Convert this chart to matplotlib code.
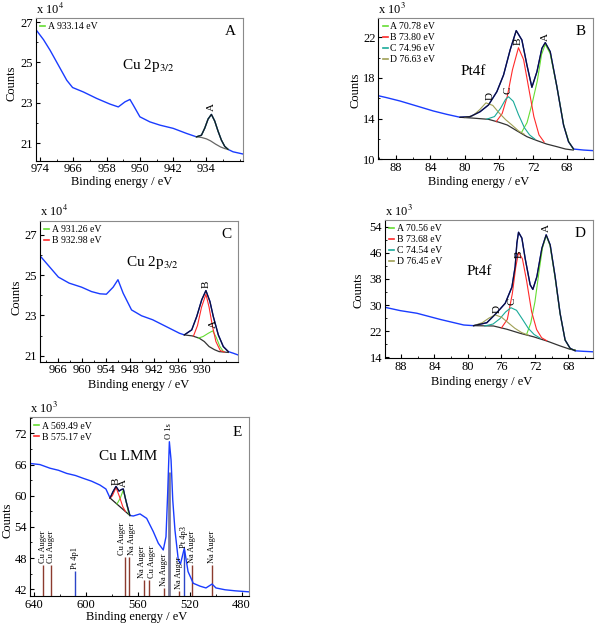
import matplotlib
matplotlib.use('Agg')
import matplotlib.pyplot as plt
from matplotlib.ticker import AutoMinorLocator

plt.rcParams['font.family'] = ['Liberation Serif', 'DejaVu Serif']
plt.rcParams['mathtext.fontset'] = 'stix'

BLUE = '#1a3cff'
GREEN = '#66dd33'
RED = '#ff2a2a'
TEAL = '#1aaa99'
OLIVE = '#a0a055'
BROWN = '#8c3b2e'

# ---------------- panel A : Cu 2p3/2 (counts x 10^4) ----------------
be_a = [975.0, 973.2, 971.6, 969.6, 967.6, 966.2, 963.6, 960.4, 957.2, 955.2,
        953.6, 952.4, 951.6, 950.0, 947.6, 945.2, 942.0, 938.8, 936.4, 935.2,
        934.4, 933.6, 932.8, 932.0, 931.2, 930.4, 929.6, 928.8, 927.6, 925.2]
cnt_a = [26.62, 26.13, 25.60, 24.86, 24.12, 23.76, 23.54, 23.22, 22.94, 22.80,
         23.05, 23.17, 22.89, 22.31, 22.06, 21.90, 21.74, 21.49, 21.32, 21.40,
         21.75, 22.20, 22.43, 22.10, 21.60, 21.16, 20.85, 20.70, 20.58, 20.47]
fit_be_a = [936.4, 935.2, 934.4, 933.6, 932.8, 932.0, 931.2, 930.4, 929.6, 928.8]
fit_a = [21.32, 21.40, 21.75, 22.20, 22.43, 22.10, 21.60, 21.16, 20.85, 20.70]
bg_be_a = [936.4, 935.2, 934.0, 933.0, 931.8, 930.6, 929.6, 928.8]
bg_a = [21.32, 21.29, 21.22, 21.12, 20.96, 20.82, 20.74, 20.70]
xticks_a = [974, 966, 958, 950, 942, 934]
yticks_a = [21, 23, 25, 27]

# ---------------- panel B : Pt4f (counts x 10^3) ----------------
be_b = [90.07, 89.09, 87.53, 85.58, 83.64, 82.07, 80.51, 79.35, 78.18, 77.20,
        76.22, 75.44, 74.67, 73.96, 73.30, 72.71, 72.13, 71.54, 70.96, 70.57,
        69.99, 69.21, 68.43, 67.85, 67.26, 66.09, 64.92]
cnt_b = [16.25, 16.06, 15.73, 15.24, 14.75, 14.42, 14.13, 14.19, 14.68, 15.34,
         16.65, 18.29, 20.75, 22.65, 21.73, 19.27, 17.08, 18.61, 20.91, 21.47,
         20.58, 17.14, 13.37, 11.73, 11.01, 10.91, 10.85]
env_be_b = be_b[6:25]
env_b = cnt_b[6:25]
bg_be_b = [80.5, 79.0, 77.2, 76.0, 75.0, 73.9, 72.7, 71.5, 70.4, 69.2, 68.2, 67.3]
bg_b = [14.13, 14.05, 13.93, 13.65, 13.37, 12.81, 12.22, 11.83, 11.50, 11.24, 11.01, 10.91]
compA_be_b = [73.3, 72.7, 72.1, 71.5, 71.0, 70.57, 70.0, 69.2, 68.4, 67.8, 67.3]
compA_b = [12.7, 13.6, 15.5, 17.7, 20.3, 21.3, 20.4, 17.1, 13.3, 11.7, 11.0]
compB_be_b = [76.3, 75.6, 75.0, 74.4, 73.7, 73.1, 72.5, 71.9, 71.3, 70.7]
compB_b = [13.7, 14.5, 16.2, 18.8, 20.97, 19.8, 17.0, 14.2, 12.4, 11.7]
compC_be_b = [77.4, 76.5, 75.8, 75.2, 74.86, 74.3, 73.7, 73.0, 72.4, 71.8]
compC_b = [13.95, 14.2, 15.0, 15.9, 16.15, 15.7, 14.4, 13.1, 12.4, 12.0]
compD_be_b = [80.0, 79.0, 78.2, 77.5, 76.7, 76.0, 75.2, 74.5, 73.7, 73.0]
compD_b = [14.1, 14.3, 14.9, 15.55, 15.3, 14.6, 13.9, 13.4, 12.8, 12.45]
xticks_b = [88, 84, 80, 76, 72, 68]
yticks_b = [10, 14, 18, 22]

# ---------------- panel C : Cu 2p3/2 (counts x 10^4) ----------------
be_c = [970.6, 966.0, 963.3, 960.2, 957.7, 955.6, 954.0, 952.3, 951.1, 949.8,
        947.7, 945.2, 942.4, 939.0, 935.7, 934.5, 932.65, 931.4, 930.15, 929.1,
        928.1, 927.25, 926.0, 924.75, 923.5, 922.25, 921.0]
cnt_c = [25.96, 24.90, 24.60, 24.40, 24.18, 24.07, 24.05, 24.40, 24.77, 24.10,
         23.27, 22.98, 22.78, 22.44, 22.11, 22.03, 22.28, 22.94, 23.77, 24.23,
         23.69, 22.94, 22.03, 21.45, 21.20, 21.12, 21.03]
env_be_c = be_c[15:25]
env_c = cnt_c[15:25]
bg_be_c = [934.5, 932.5, 930.8, 929.5, 928.3, 927.0, 925.8, 923.5]
bg_c = [22.03, 21.98, 21.87, 21.70, 21.45, 21.30, 21.20, 21.16]
compA_be_c = [931.0, 929.8, 928.6, 927.4, 926.5, 925.6, 924.7]
compA_c = [21.87, 21.95, 22.10, 22.23, 21.90, 21.45, 21.20]
compB_be_c = [932.2, 931.2, 930.2, 929.1, 928.3, 927.5, 926.6, 925.5, 924.5]
compB_c = [21.98, 22.50, 23.40, 24.05, 23.40, 22.50, 21.70, 21.25, 21.18]
xticks_c = [966, 960, 954, 948, 942, 936, 930]
yticks_c = [21, 23, 25, 27]

# ---------------- panel D : Pt4f (counts x 10^3) ----------------
be_d = [89.87, 88.08, 86.1, 83.3, 80.5, 79.33, 77.74, 76.54, 75.55, 74.75,
        74.36, 74.16, 73.96, 73.56, 73.17, 72.57, 72.25, 71.77, 71.17, 70.66,
        70.18, 69.59, 69.0, 68.4, 67.8, 67.2, 66.2, 65.1]
cnt_d = [29.3, 28.3, 27.5, 25.6, 23.9, 23.7, 24.6, 27.7, 30.55, 35.5,
         41.8, 48.9, 52.3, 50.5, 44.3, 36.2, 34.8, 38.7, 47.4, 51.5,
         48.4, 38.7, 27.5, 19.3, 16.76, 16.0, 15.84, 15.7]
env_be_d = be_d[5:26]
env_d = cnt_d[5:26]
bg_be_d = [79.33, 76.95, 75.35, 73.76, 72.18, 70.58, 69.0, 67.8, 67.2]
bg_d = [23.7, 23.6, 22.6, 21.35, 20.3, 19.0, 17.5, 16.45, 16.25]
compA_be_d = [73.0, 72.5, 72.0, 71.5, 71.1, 70.66, 70.2, 69.6, 69.0, 68.4, 67.8, 67.2]
compA_d = [21.0, 24.5, 31.0, 40.5, 47.5, 51.3, 48.2, 38.5, 27.4, 19.3, 16.7, 16.1]
compB_be_d = [76.0, 75.3, 74.7, 74.3, 73.96, 73.5, 73.0, 72.4, 71.8, 71.2, 70.6]
compB_d = [23.0, 25.6, 33.5, 41.5, 46.1, 44.2, 37.5, 28.0, 22.5, 20.0, 19.1]
compC_be_d = [78.0, 77.0, 76.2, 75.5, 74.87, 74.2, 73.5, 72.8, 72.1, 71.4]
compC_d = [23.6, 24.2, 25.8, 27.9, 29.2, 28.4, 25.7, 22.9, 21.0, 19.9]
compD_be_d = [79.3, 78.3, 77.5, 76.75, 76.0, 75.2, 74.4, 73.6, 72.8]
compD_d = [23.7, 24.6, 26.0, 27.0, 26.3, 24.6, 22.9, 21.6, 20.8]
xticks_d = [88, 84, 80, 76, 72, 68]
yticks_d = [14, 22, 30, 38, 46, 54]

# ---------------- panel E : Cu LMM survey (counts x 10^3) ----------------
be_e = [642.5, 635.3, 627.6, 621.0, 614.7, 608.0, 601.9, 595.5, 589.1, 584.5,
        581.3, 579.0, 576.7, 574.4, 572.5, 571.1, 569.5, 568.2, 566.0, 563.4,
        558.2, 553.1, 548.0, 544.1, 540.3, 538.2, 536.9, 535.6, 534.3, 533.0,
        531.3, 528.7, 527.0, 524.1, 521.2, 517.2, 512.0, 507.4, 502.7, 499.7,
        492.7, 485.0, 474.2]
cnt_e = [66.2, 66.0, 65.3, 64.9, 64.3, 63.9, 63.35, 62.8, 62.06, 61.3,
         59.56, 60.8, 61.8, 60.9, 61.2, 61.3, 59.5, 58.2, 56.2, 56.1,
         56.5, 55.65, 53.1, 50.85, 49.56, 52.1, 60.5, 70.4, 66.9, 59.2,
         53.4, 47.6, 46.9, 49.9, 45.4, 43.15, 42.6, 42.25, 43.0, 42.25,
         41.9, 41.7, 41.5]
env_be_e = be_e[10:19]
env_e = cnt_e[10:19]
bg_be_e = [581.3, 566.0]
bg_e = [59.56, 56.2]
compA_be_e = [576.0, 573.5, 571.1, 569.0, 567.0, 566.0]
compA_e = [58.4, 59.5, 61.1, 59.0, 56.6, 56.2]
compB_be_e = [581.3, 579.5, 576.7, 574.0, 571.5, 569.5]
compB_e = [59.56, 60.0, 61.6, 59.8, 57.9, 57.0]
line_be = [633.2, 626.8, 608.6, 569.8, 566.7, 554.9, 551.1, 539.7, 535.9,
           527.9, 524.1, 517.9, 502.7]
line_top = [46.7, 46.7, 45.6, 48.3, 48.3, 43.8, 43.8, 42.25, 64.6,
            41.7, 49.6, 46.7, 46.7]
line_name = ['Cu Auger', 'Cu Auger', 'Pt 4p1', 'Cu Auger', 'Na Auger',
             'Na Auger', 'Cu Auger', 'Na Auger', 'O 1s', 'Na Auger',
             'Pt 4p3', 'Na Auger', 'Na Auger']
xticks_e = [640, 600, 560, 520, 480]
yticks_e = [42, 48, 54, 60, 66, 72]


def style(ax, xlim, ylim, xticks, yticks, exp, letter, xl, yl):
    ax.set_xlim(xlim)
    ax.set_ylim(ylim)
    ax.set_xticks(xticks)
    ax.set_yticks(yticks)
    ax.xaxis.set_minor_locator(AutoMinorLocator(2))
    ax.yaxis.set_minor_locator(AutoMinorLocator(2))
    ax.tick_params(which='both', direction='in', labelsize=9, pad=2)
    ax.tick_params(which='major', length=3)
    ax.tick_params(which='minor', length=1.5)
    for s in ['top', 'right']:
        ax.spines[s].set_color('#8a8a8a')
    ax.set_xlabel('Binding energy / eV', fontsize=9)
    ax.set_ylabel('Counts', fontsize=9)
    ax.xaxis.set_label_coords(*xl)
    ax.yaxis.set_label_coords(*yl)
    ax.text(0.0, 1.01, 'x 10$^{%d}$' % exp, transform=ax.transAxes,
            ha='left', va='bottom', fontsize=9)
    ax.text(0.965, 0.95, letter, transform=ax.transAxes, ha='right',
            va='top', fontsize=11)


def peak_letter(ax, x, y, s):
    ax.text(x, y, s, rotation=90, ha='center', va='bottom', fontsize=8)


def legend(ax):
    leg = ax.legend(loc='upper left', frameon=False, fontsize=7,
                    handlelength=0.5, handletextpad=0.25, borderaxespad=0.15,
                    borderpad=0.3, labelspacing=0.2)
    for h in leg.get_lines():
        h.set_linewidth(1.2)


fig = plt.figure(figsize=(5.95, 6.25), dpi=100)

# A
ax = fig.add_axes([0.0605, 0.7429, 0.3479, 0.2283])
ax.plot(be_a, cnt_a, color=BLUE, lw=1.0)
ax.plot(bg_be_a, bg_a, color='#666666', lw=0.9)
ax.plot(fit_be_a, fit_a, color=GREEN, lw=0.9, label='A 933.14 eV')
ax.plot(fit_be_a, fit_a, color='#101030', lw=0.9)
peak_letter(ax, 932.8, 22.6, 'A')
ax.text(0.54, 0.67, 'Cu 2p$_{3/2}$', transform=ax.transAxes, ha='center',
        va='center', fontsize=11)
legend(ax)
style(ax, (975.0, 925.2), (20.14, 27.2), xticks_a, yticks_a, 4, 'A',
      (0.414, -0.11), (-0.088, 0.545))

# B
ax = fig.add_axes([0.6358, 0.7451, 0.3613, 0.2261])
ax.plot(be_b, cnt_b, color=BLUE, lw=1.0)
ax.plot(bg_be_b, bg_b, color='#333333', lw=0.9)
ax.plot(compA_be_b, compA_b, color=GREEN, lw=0.8, label='A 70.78 eV')
ax.plot(compB_be_b, compB_b, color=RED, lw=0.8, label='B 73.80 eV')
ax.plot(compC_be_b, compC_b, color=TEAL, lw=0.8, label='C 74.96 eV')
ax.plot(compD_be_b, compD_b, color=OLIVE, lw=0.8, label='D 76.63 eV')
ax.plot(env_be_b, env_b, color='#101030', lw=0.9)
peak_letter(ax, 77.0, 15.8, 'D')
peak_letter(ax, 74.9, 16.4, 'C')
peak_letter(ax, 73.7, 21.2, 'B')
peak_letter(ax, 70.5, 21.6, 'A')
ax.text(0.44, 0.62, 'Pt4f', transform=ax.transAxes, ha='center',
        va='center', fontsize=11)
legend(ax)
style(ax, (90.07, 64.96), (10.0, 23.89), xticks_b, yticks_b, 3, 'B',
      (0.465, -0.12), (-0.08, 0.49))

# C
ax = fig.add_axes([0.0672, 0.4213, 0.3333, 0.2256])
ax.plot(be_c, cnt_c, color=BLUE, lw=1.0)
ax.plot(bg_be_c, bg_c, color='#333333', lw=0.9)
ax.plot(compA_be_c, compA_c, color=GREEN, lw=0.8, label='A 931.26 eV')
ax.plot(compB_be_c, compB_c, color=RED, lw=0.8, label='B 932.98 eV')
ax.plot(env_be_c, env_c, color='#101030', lw=0.9)
peak_letter(ax, 929.1, 24.35, 'B')
peak_letter(ax, 927.3, 22.35, 'A')
ax.text(0.567, 0.70, 'Cu 2p$_{3/2}$', transform=ax.transAxes, ha='center',
        va='center', fontsize=11)
legend(ax)
style(ax, (970.6, 921.0), (20.7, 27.7), xticks_c, yticks_c, 4, 'C',
      (0.496, -0.12), (-0.087, 0.46))

# D
ax = fig.add_axes([0.6471, 0.4267, 0.3491, 0.2213])
ax.plot(be_d, cnt_d, color=BLUE, lw=1.0)
ax.plot(bg_be_d, bg_d, color='#333333', lw=0.9)
ax.plot(compA_be_d, compA_d, color=GREEN, lw=0.8, label='A 70.56 eV')
ax.plot(compB_be_d, compB_d, color=RED, lw=0.8, label='B 73.68 eV')
ax.plot(compC_be_d, compC_d, color=TEAL, lw=0.8, label='C 74.54 eV')
ax.plot(compD_be_d, compD_d, color=OLIVE, lw=0.8, label='D 76.45 eV')
ax.plot(env_be_d, env_d, color='#101030', lw=0.9)
peak_letter(ax, 76.5, 27.6, 'D')
peak_letter(ax, 74.7, 30.0, 'C')
peak_letter(ax, 73.9, 44.5, 'B')
peak_letter(ax, 70.6, 52.3, 'A')
ax.text(0.453, 0.626, 'Pt4f', transform=ax.transAxes, ha='center',
        va='center', fontsize=11)
legend(ax)
style(ax, (89.9, 65.1), (13.7, 56.05), xticks_d, yticks_d, 3, 'D',
      (0.466, -0.125), (-0.10, 0.49))

# E
ax = fig.add_axes([0.0504, 0.0464, 0.3686, 0.2859])
for i, (x, top, name) in enumerate(zip(line_be, line_top, line_name)):
    if name.startswith('Pt'):
        c, w = '#2b45c8', 1.0
    elif name.startswith('O'):
        c, w = '#7a7a98', 2.0
    else:
        c, w = BROWN, 1.0
    ax.vlines(x, 40.7, top, colors=c, lw=w)
    # spread labels of lines that sit very close together
    dx = 0
    if i + 1 < len(line_be) and line_be[i] - line_be[i + 1] < 5 and line_top[i] == line_top[i + 1]:
        dx = -2
    elif i > 0 and line_be[i - 1] - line_be[i] < 5 and line_top[i] == line_top[i - 1]:
        dx = 2
    ytxt = max(cnt_e) + 0.6 if name.startswith('O') else top + 0.3
    ax.annotate(name, (x, ytxt), xytext=(dx, 0), textcoords='offset points',
                rotation=90, ha='center', va='bottom', fontsize=6)
ax.plot(be_e, cnt_e, color=BLUE, lw=1.0)
ax.plot(bg_be_e, bg_e, color='#222222', lw=0.9)
ax.plot(compA_be_e, compA_e, color=GREEN, lw=0.8, label='A 569.49 eV')
ax.plot(compB_be_e, compB_e, color=RED, lw=0.8, label='B 575.17 eV')
ax.plot(env_be_e, env_e, color='#101030', lw=0.9)
peak_letter(ax, 576.6, 62.1, 'B')
peak_letter(ax, 570.8, 61.6, 'A')
ax.text(0.448, 0.78, 'Cu LMM', transform=ax.transAxes, ha='center',
        va='center', fontsize=11)
legend(ax)
style(ax, (643.0, 474.0), (40.7, 75.1), xticks_e, yticks_e, 3, 'E',
      (0.486, -0.085), (-0.075, 0.425))

fig.savefig('out.png', dpi=100)
